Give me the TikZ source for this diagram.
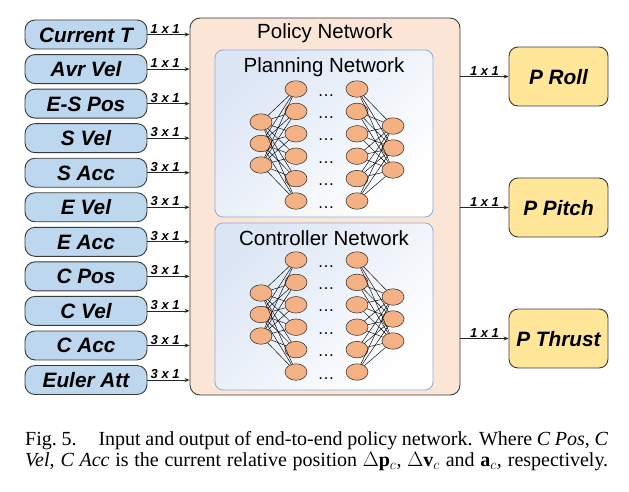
\documentclass[tikz,border=0pt]{standalone}
\usepackage{fontspec}
\setmainfont{Liberation Serif}
\newfontfamily\arialfont{Liberation Sans}
\usetikzlibrary{arrows.meta,calc,shapes.geometric}
\definecolor{inblue}{HTML}{BDD7EE}
\definecolor{outyellow}{HTML}{FFE699}
\definecolor{policyfill}{HTML}{FBE5D6}
\definecolor{neuronfill}{HTML}{F4B183}
\definecolor{innerblue}{HTML}{DCE6F5}
\definecolor{innerborder}{HTML}{8FAADC}
\definecolor{boxgray}{HTML}{3A3A3A}
\begin{document}
\begin{tikzpicture}[x=1pt,y=-1pt,
  inbox/.style={draw=boxgray, line width=0.9pt, fill=inblue, rounded corners=10pt,
    minimum width=122pt, minimum height=29pt, inner sep=0pt,
    font=\arialfont\bfseries\itshape\fontsize{20.8}{20.8}\selectfont,
    text height=15pt, text depth=0pt},
  outbox/.style={draw=boxgray, line width=0.9pt, fill=outyellow, rounded corners=9pt,
    minimum width=99pt, minimum height=59pt, inner sep=0pt,
    font=\arialfont\bfseries\itshape\fontsize{20.8}{20.8}\selectfont,
    text height=15pt, text depth=0pt},
  policybox/.style={draw=boxgray, line width=0.9pt, fill=policyfill, rounded corners=10pt,
    minimum width=270pt, minimum height=377pt, inner sep=0pt},
  netbox/.style={draw=innerborder, line width=0.8pt, rounded corners=8pt,
    top color=innerblue, bottom color=white, shading angle=45,
    minimum width=218pt, minimum height=167pt, inner sep=0pt},
  titletext/.style={anchor=base, inner sep=0pt, font=\arialfont\fontsize{20.5}{20.5}\selectfont},
  neuron/.style={ellipse, draw=black!85, line width=0.5pt, fill=neuronfill,
    minimum width=22pt, minimum height=16.5pt, inner sep=0pt},
  link/.style={black, line width=0.45pt},
  dotstext/.style={anchor=base, inner sep=0pt, font=\arialfont\fontsize{17}{17}\selectfont},
  flow/.style={draw=black!85, line width=0.8pt, -{Stealth[length=5pt,width=4pt]}},
  dimlabel/.style={inner sep=1pt, font=\arialfont\bfseries\itshape\fontsize{13}{13}\selectfont,
    text height=9.5pt, text depth=0pt},
  captext/.style={anchor=base west, inner sep=0pt, font=\fontsize{20}{21}\selectfont}
]
\useasboundingbox (0,0) rectangle (629,491);

% policy box
\node[policybox] (policy) at (325,206.5) {};
\node[titletext] (ptitle) at (325,38) {Policy Network};

% inner network boxes
\node[netbox] (plan) at (324,133.5) {};
\node[titletext] (plantitle) at (324,72) {Planning Network};
\node[netbox] (ctrl) at (324,306.5) {};
\node[titletext] (ctrltitle) at (324,245) {Controller Network};

% neural nets
\foreach \pre/\dy in {p/0, c/171} {
  \begin{scope}[shift={(0,\dy)}]
    \foreach \k/\yy in {1/122, 2/143.5, 3/165}
      \node[neuron] (\pre-i-\k) at (261,\yy) {};
    \foreach \k in {1,...,6} {
      \node[neuron] (\pre-h-\k) at (296,{89+22.4*(\k-1)}) {};
      \node[neuron] (\pre-g-\k) at (357,{89+22.4*(\k-1)}) {};
      \node[dotstext] (\pre-d-\k) at (326,{96+22.4*(\k-1)}) {…};
    }
    \foreach \k/\yy in {1/126, 2/148, 3/170}
      \node[neuron] (\pre-o-\k) at (393,\yy) {};
    \foreach \a in {1,2,3}
      \foreach \b in {1,...,6} {
        \draw[link] (\pre-i-\a) -- (\pre-h-\b);
        \draw[link] (\pre-g-\b) -- (\pre-o-\a);
      }
  \end{scope}
}

% inputs
\foreach \k/\txt/\dim in {1/Current T/1 x 1, 2/Avr Vel/1 x 1, 3/E-S Pos/3 x 1,
  4/S Vel/3 x 1, 5/S Acc/3 x 1, 6/E Vel/3 x 1, 7/E Acc/3 x 1, 8/C Pos/3 x 1,
  9/C Vel/3 x 1, 10/C Acc/3 x 1, 11/Euler Att/3 x 1} {
  \node[inbox] (in\k) at (86,{34.5+34.55*(\k-1)}) {\txt};
  \draw[flow] (in\k.east) -- (in\k.east -| policy.west)
    node[dimlabel, pos=0.42, above] {\dim};
}

% outputs
\node[outbox] (roll) at (558.5,76.5) {P Roll};
\node[outbox] (pitch) at (558.5,207.5) {P Pitch};
\node[outbox] (thrust) at (558.5,338.5) {P Thrust};
\foreach \o in {roll, pitch, thrust}
  \draw[flow] (policy.east |- \o.west) -- (\o.west)
    node[dimlabel, midway, above] {1 x 1};

% caption
\node[captext] (cap1) at (25,445) {\makebox[583pt][s]{Fig.~5.\hspace{1.1em}Input and output of end-to-end policy network. Where \textit{C Pos}, \textit{C}}};
\node[captext] (cap2) at (25,466) {\makebox[583pt][s]{\textit{Vel}, \textit{C Acc} is the current relative position $\Delta\mathbf{p}_c$, $\Delta\mathbf{v}_c$ and $\mathbf{a}_c$, respectively.}};
\end{tikzpicture}
\end{document}
